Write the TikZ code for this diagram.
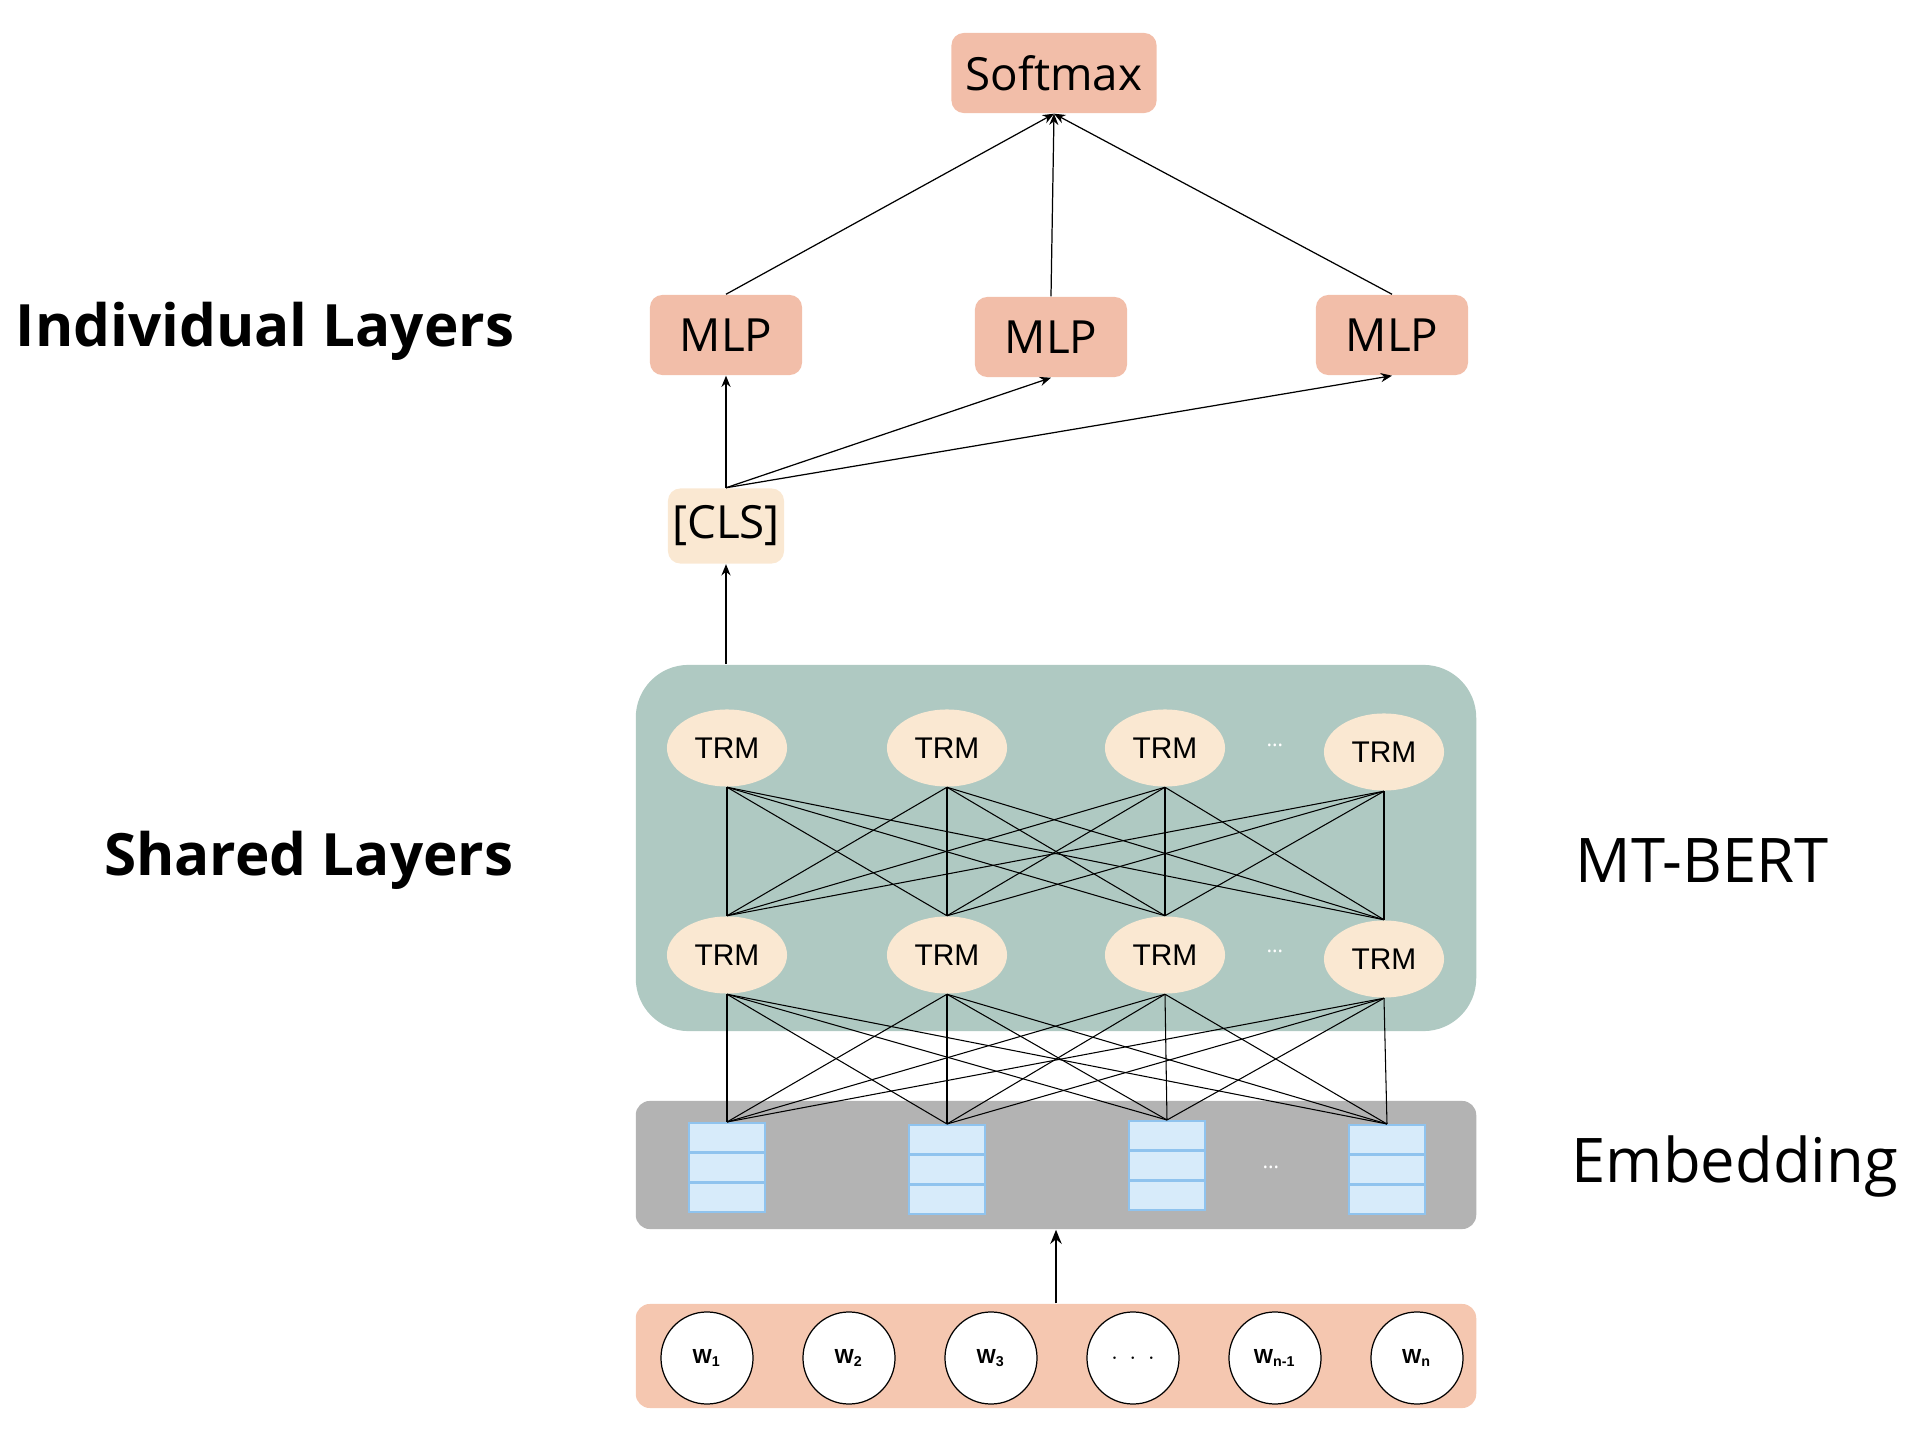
\documentclass[tikz,border=0pt]{standalone}
\usepackage{fontspec}
\setmainfont{Open Sans}
\newfontfamily\arialfont{Liberation Sans}
\usepackage{tikz}
\usetikzlibrary{arrows.meta,shapes}

\definecolor{mlpred}{HTML}{F2BEA9}
\definecolor{inred}{HTML}{F5C7B0}
\definecolor{cream}{HTML}{FAE8D2}
\definecolor{sharedgreen}{HTML}{AFC9C2}
\definecolor{embgray}{HTML}{B3B3B3}
\definecolor{cellblue}{HTML}{D7EBFA}
\definecolor{cellline}{HTML}{8FC3EE}

\begin{document}
\begin{tikzpicture}[x=0.01cm, y=-0.01cm, >={Stealth[length=3.2pt,width=2.6pt]},
  headbox/.style={fill=mlpred, rounded corners=3.5pt, inner sep=0pt, font=\fontsize{13}{15}\selectfont},
  trm/.style={ellipse, fill=cream, minimum width=1.2cm, minimum height=0.77cm, inner sep=0pt, font=\arialfont\fontsize{8.5}{10}\selectfont},
  cell/.style={fill=cellblue, draw=cellline, line width=0.6pt, minimum width=0.76cm, minimum height=0.29cm, inner sep=0pt},
  word/.style={circle, draw, fill=white, line width=0.35pt, minimum size=0.92cm, inner sep=0pt, font=\arialfont\bfseries\fontsize{5.8}{6}\selectfont},
  wire/.style={line width=0.3pt},
  link/.style={->, line width=0.35pt},
  bigtext/.style={inner sep=0pt, font=\fontsize{17.5}{20}\selectfont},
  layertext/.style={inner sep=0pt, font=\bfseries\fontsize{16.6}{20}\selectfont}]
\useasboundingbox (0,0) rectangle (1920,1452);

\node (inbox) [fill=inred, rounded corners=4pt, minimum width=8.4cm, minimum height=1.04cm, inner sep=0pt] at (1056,1356) {};
\node (embbox) [fill=embgray, rounded corners=4pt, minimum width=8.4cm, minimum height=1.28cm, inner sep=0pt] at (1056,1165) {};
\node (sharedbox) [fill=sharedgreen, rounded corners=15pt, minimum width=8.4cm, minimum height=3.66cm, inner sep=0pt] at (1056,848) {};

\node [headbox, minimum width=2.05cm, minimum height=0.8cm] (softmax) at (1054,73) {Softmax};
\foreach \n/\x/\y in {1/726/335, 2/1051/337, 3/1392/335}
    \node [headbox, minimum width=1.52cm, minimum height=0.8cm] (mlp\n) at (\x,\y) {MLP};
\node [headbox, fill=cream, minimum width=1.16cm, minimum height=0.75cm] (cls) at (726,526) {[CLS]};

\foreach \n/\x/\d in {1/727/0, 2/947/0, 3/1165/0, 4/1384/4} {
    \node [trm] (top\n) at (\x,{748+\d}) {TRM};
    \node [trm] (bot\n) at (\x,{955+\d}) {TRM};
}
\node [text=white, font=\fontsize{6}{7}\selectfont] (dotstop) at (1275,745) {\dots};
\node [text=white, font=\fontsize{6}{7}\selectfont] (dotsbot) at (1275,951) {\dots};

\foreach \n/\x/\y in {1/727/1122, 2/947/1124, 3/1167/1120, 4/1387/1124} {
    \node [cell, anchor=north] (emb\n) at (\x,\y) {};
    \node [cell, anchor=north] at (\x,{\y+30}) {};
    \node [cell, anchor=north] at (\x,{\y+60}) {};
}
\node [text=white, font=\fontsize{6}{7}\selectfont] (dotsemb) at (1271,1167) {\dots};

\foreach \i in {1,...,4}
    \foreach \j in {1,...,4} {
        \draw [wire] (top\i.south) -- (bot\j.north);
        \draw [wire] (bot\i.south) -- (emb\j.north);
    }

\foreach \n/\x/\t in {1/707/W\textsubscript{1}, 2/849/W\textsubscript{2}, 3/991/W\textsubscript{3}, 4/1133/$\cdot\,\cdot\,\cdot$, 5/1275/W\textsubscript{n-1}, 6/1417/W\textsubscript{n}}
    \node [word] (w\n) at (\x,1358) {\t};

\draw [->, line width=0.8pt, >={Stealth[length=4pt,width=3.2pt]}] (inbox.north) -- (embbox.south);
\draw [link] (sharedbox.north -| cls.south) -- (cls.south);
\foreach \n in {1,2,3} {
    \draw [link] (cls.north) -- (mlp\n.south);
    \draw [link] (mlp\n.north) -- (softmax.south);
}

\node [layertext, anchor=west] (indiv) at (15,331) {Individual Layers};
\node [layertext, anchor=east] (shared) at (514,860) {Shared Layers};
\node [bigtext, anchor=west] (mtbert) at (1575,861) {MT-BERT};
\node [bigtext, anchor=west] (embed) at (1571,1167) {Embedding};
\end{tikzpicture}
\end{document}
